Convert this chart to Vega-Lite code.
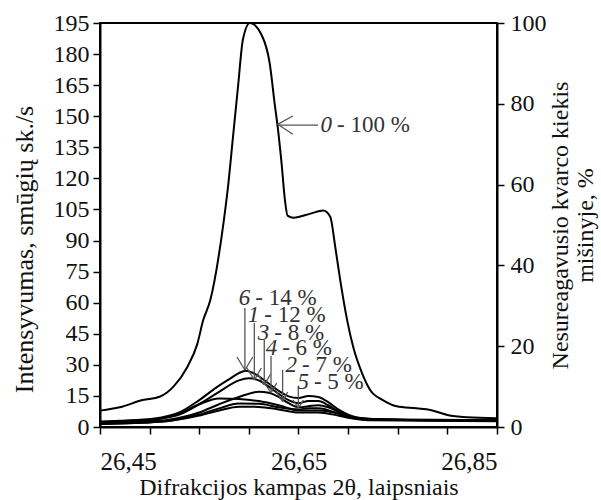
{
  "$schema": "https://vega.github.io/schema/vega-lite/v6.json",
  "width": 397,
  "height": 404,
  "autosize": "none",
  "padding": {"left": 100, "top": 23, "right": 104, "bottom": 73},
  "background": "white",
  "config": {
    "view": {"stroke": "black", "strokeWidth": 2},
    "font": "Liberation Serif",
    "axis": {"labelFont": "Liberation Serif", "titleFont": "Liberation Serif", "labelColor": "#111", "titleColor": "#111", "titleFontWeight": "normal", "domainColor": "black", "domainWidth": 2, "tickColor": "black", "tickWidth": 1.5, "grid": false},
    "text": {"font": "Liberation Serif"}
  },
  "datasets": {
    "curves": [
      {"s":"0","x":26.45,"y":7.9},{"s":"0","x":26.47,"y":9.5},{"s":"0","x":26.493,"y":13},{"s":"0","x":26.51,"y":14.6},{"s":"0","x":26.524,"y":19.5},{"s":"0","x":26.538,"y":29},{"s":"0","x":26.548,"y":40},{"s":"0","x":26.554,"y":51.6},{"s":"0","x":26.561,"y":61},{"s":"0","x":26.574,"y":97},{"s":"0","x":26.579,"y":116},{"s":"0","x":26.584,"y":140},{"s":"0","x":26.589,"y":164},{"s":"0","x":26.594,"y":187},{"s":"0","x":26.601,"y":195},{"s":"0","x":26.614,"y":188},{"s":"0","x":26.621,"y":175.5},{"s":"0","x":26.626,"y":156},{"s":"0","x":26.629,"y":145},{"s":"0","x":26.633,"y":127},{"s":"0","x":26.636,"y":111},{"s":"0","x":26.639,"y":102},{"s":"0","x":26.645,"y":101},{"s":"0","x":26.662,"y":103},{"s":"0","x":26.675,"y":104.5},{"s":"0","x":26.682,"y":101.5},{"s":"0","x":26.687,"y":87},{"s":"0","x":26.692,"y":71},{"s":"0","x":26.699,"y":51.6},{"s":"0","x":26.705,"y":38.8},{"s":"0","x":26.714,"y":26},{"s":"0","x":26.722,"y":18},{"s":"0","x":26.735,"y":13},{"s":"0","x":26.749,"y":10},{"s":"0","x":26.769,"y":9},{"s":"0","x":26.783,"y":8.2},{"s":"0","x":26.8,"y":5.8},{"s":"0","x":26.82,"y":4.7},{"s":"0","x":26.85,"y":4.2},

      {"s":"6","x":26.45,"y":2.5},{"s":"6","x":26.47,"y":3},{"s":"6","x":26.49,"y":3.5},{"s":"6","x":26.51,"y":4.5},{"s":"6","x":26.53,"y":7},{"s":"6","x":26.55,"y":13},{"s":"6","x":26.57,"y":20},{"s":"6","x":26.58,"y":23},{"s":"6","x":26.59,"y":26},{"s":"6","x":26.597,"y":27.2},{"s":"6","x":26.61,"y":24.5},{"s":"6","x":26.62,"y":21},{"s":"6","x":26.63,"y":17.5},{"s":"6","x":26.64,"y":14.8},{"s":"6","x":26.65,"y":14},{"s":"6","x":26.66,"y":15},{"s":"6","x":26.67,"y":14.5},{"s":"6","x":26.68,"y":12},{"s":"6","x":26.69,"y":8.5},{"s":"6","x":26.70,"y":6},{"s":"6","x":26.72,"y":4},{"s":"6","x":26.75,"y":3.5},{"s":"6","x":26.80,"y":3.2},{"s":"6","x":26.85,"y":3.5},

      {"s":"1","x":26.45,"y":2.2},{"s":"1","x":26.49,"y":3},{"s":"1","x":26.51,"y":4},{"s":"1","x":26.53,"y":6},{"s":"1","x":26.55,"y":11},{"s":"1","x":26.57,"y":17},{"s":"1","x":26.59,"y":22.5},{"s":"1","x":26.60,"y":23.5},{"s":"1","x":26.61,"y":22.5},{"s":"1","x":26.62,"y":19.5},{"s":"1","x":26.63,"y":16},{"s":"1","x":26.64,"y":13},{"s":"1","x":26.65,"y":11.5},{"s":"1","x":26.66,"y":12.5},{"s":"1","x":26.67,"y":12.5},{"s":"1","x":26.68,"y":10.5},{"s":"1","x":26.69,"y":7.5},{"s":"1","x":26.70,"y":5.5},{"s":"1","x":26.72,"y":4},{"s":"1","x":26.76,"y":3.4},{"s":"1","x":26.85,"y":3.4},

      {"s":"3","x":26.45,"y":2},{"s":"3","x":26.51,"y":3},{"s":"3","x":26.53,"y":4.5},{"s":"3","x":26.55,"y":7},{"s":"3","x":26.57,"y":11},{"s":"3","x":26.59,"y":14.5},{"s":"3","x":26.61,"y":17},{"s":"3","x":26.62,"y":16.5},{"s":"3","x":26.63,"y":14.5},{"s":"3","x":26.64,"y":11.5},{"s":"3","x":26.65,"y":9.5},{"s":"3","x":26.66,"y":10},{"s":"3","x":26.67,"y":10.5},{"s":"3","x":26.68,"y":9.5},{"s":"3","x":26.69,"y":7.5},{"s":"3","x":26.70,"y":5.5},{"s":"3","x":26.72,"y":3.8},{"s":"3","x":26.85,"y":3.3},

      {"s":"4","x":26.45,"y":2.5},{"s":"4","x":26.49,"y":3.2},{"s":"4","x":26.51,"y":4},{"s":"4","x":26.53,"y":6.5},{"s":"4","x":26.55,"y":11},{"s":"4","x":26.57,"y":13.8},{"s":"4","x":26.59,"y":13.5},{"s":"4","x":26.61,"y":12.5},{"s":"4","x":26.63,"y":10.5},{"s":"4","x":26.65,"y":8},{"s":"4","x":26.67,"y":8},{"s":"4","x":26.69,"y":6.5},{"s":"4","x":26.70,"y":5},{"s":"4","x":26.72,"y":3.7},{"s":"4","x":26.85,"y":3},

      {"s":"2","x":26.45,"y":1.5},{"s":"2","x":26.51,"y":2.5},{"s":"2","x":26.55,"y":6},{"s":"2","x":26.57,"y":9},{"s":"2","x":26.59,"y":11.3},{"s":"2","x":26.61,"y":11.2},{"s":"2","x":26.63,"y":9.5},{"s":"2","x":26.65,"y":8.5},{"s":"2","x":26.66,"y":9},{"s":"2","x":26.67,"y":9},{"s":"2","x":26.69,"y":6.5},{"s":"2","x":26.70,"y":5},{"s":"2","x":26.72,"y":3.5},{"s":"2","x":26.85,"y":3},

      {"s":"5","x":26.45,"y":1.5},{"s":"5","x":26.51,"y":2.5},{"s":"5","x":26.55,"y":5.5},{"s":"5","x":26.57,"y":8},{"s":"5","x":26.59,"y":9.8},{"s":"5","x":26.61,"y":9.7},{"s":"5","x":26.63,"y":8.5},{"s":"5","x":26.65,"y":7},{"s":"5","x":26.67,"y":7},{"s":"5","x":26.69,"y":5.5},{"s":"5","x":26.70,"y":4.5},{"s":"5","x":26.72,"y":3.3},{"s":"5","x":26.85,"y":2.8}
    ],
    "arrows": [
      {"x":26.6697,"y":145.7,"x2":26.6293,"y2":145.7},
      {"x":26.629,"y":146.1,"x2":26.6443,"y2":150.1},
      {"x":26.629,"y":146.1,"x2":26.6443,"y2":141.3},
      {"x":26.596,"y":57.4,"x2":26.596,"y2":27.5},
      {"x":26.596,"y":27.5,"x2":26.588,"y2":33.8},
      {"x":26.596,"y":27.5,"x2":26.604,"y2":33.8},
      {"x":26.6055,"y":50.2,"x2":26.6055,"y2":22.7},
      {"x":26.6055,"y":22.7,"x2":26.598,"y2":28.5},
      {"x":26.6055,"y":22.7,"x2":26.6125,"y2":28.5},
      {"x":26.6155,"y":42,"x2":26.6155,"y2":20.3},
      {"x":26.6155,"y":20.3,"x2":26.609,"y2":25.6},
      {"x":26.6155,"y":20.3,"x2":26.622,"y2":25.6},
      {"x":26.6223,"y":34.3,"x2":26.6223,"y2":16.4},
      {"x":26.6223,"y":16.4,"x2":26.616,"y2":21.2},
      {"x":26.6223,"y":16.4,"x2":26.628,"y2":21.2},
      {"x":26.634,"y":27.5,"x2":26.634,"y2":12.2},
      {"x":26.634,"y":12.2,"x2":26.628,"y2":16.9},
      {"x":26.634,"y":12.2,"x2":26.639,"y2":16.9},
      {"x":26.6498,"y":19.8,"x2":26.6498,"y2":9.2},
      {"x":26.6498,"y":9.2,"x2":26.6445,"y2":13},
      {"x":26.6498,"y":9.2,"x2":26.655,"y2":13}
    ],
    "labels": [
      {"n":"0","t":"- 100 %","x":26.6838,"y":146},
      {"n":"6","t":"- 14 %","x":26.6015,"y":62.3},
      {"n":"1","t":"- 12 %","x":26.6105,"y":54},
      {"n":"3","t":"- 8 %","x":26.6205,"y":45.4},
      {"n":"4","t":"- 6 %","x":26.6285,"y":38.1},
      {"n":"2","t":"- 7 %","x":26.6485,"y":29.9},
      {"n":"5","t":"- 5 %","x":26.6605,"y":21.9}
    ],
    "right": [{"p":0},{"p":100}]
  },
  "layer": [
    {
      "data": {"name": "curves"},
      "mark": {"type": "line", "interpolate": "monotone", "color": "black", "strokeWidth": 2},
      "encoding": {
        "detail": {"field": "s"},
        "x": {"field": "x", "type": "quantitative", "scale": {"domain": [26.45, 26.85], "nice": false, "zero": false},
          "axis": {"title": "Difrakcijos kampas 2θ, laipsniais", "titleFontSize": 24, "titlePadding": 1, "labelFontSize": 25, "labelPadding": 15, "tickSize": 7,
            "values": [26.45,26.5,26.55,26.6,26.65,26.7,26.75,26.8,26.85],
            "labelExpr": "(abs(datum.value-26.45)<0.001 || abs(datum.value-26.65)<0.001 || abs(datum.value-26.85)<0.001) ? replace(format(datum.value,'.2f'),'.',',') : ''"}},
        "y": {"field": "y", "type": "quantitative", "scale": {"domain": [0, 195], "nice": false},
          "axis": {"title": "Intensyvumas,  smūgių sk./s", "titleFontSize": 26, "titlePadding": 16, "titleY": 226, "labelFontSize": 24, "labelPadding": 4, "tickSize": 7,
            "values": [0,15,30,45,60,75,90,105,120,135,150,165,180,195]}}
      }
    },
    {
      "data": {"name": "arrows"},
      "mark": {"type": "rule", "color": "#555", "strokeWidth": 1.3},
      "encoding": {
        "x": {"field": "x", "type": "quantitative"},
        "y": {"field": "y", "type": "quantitative", "scale": {"domain": [0, 195], "nice": false}, "axis": null},
        "x2": {"field": "x2"},
        "y2": {"field": "y2"}
      }
    },
    {
      "data": {"name": "labels"},
      "mark": {"type": "text", "align": "right", "baseline": "middle", "fontStyle": "italic", "fontSize": 23, "color": "#333"},
      "encoding": {
        "x": {"field": "x", "type": "quantitative"},
        "y": {"field": "y", "type": "quantitative", "scale": {"domain": [0, 195], "nice": false}, "axis": null},
        "text": {"field": "n"}
      }
    },
    {
      "data": {"name": "labels"},
      "mark": {"type": "text", "align": "left", "baseline": "middle", "dx": 5, "fontSize": 23, "color": "#333"},
      "encoding": {
        "x": {"field": "x", "type": "quantitative"},
        "y": {"field": "y", "type": "quantitative", "scale": {"domain": [0, 195], "nice": false}, "axis": null},
        "text": {"field": "t"}
      }
    },
    {
      "data": {"name": "right"},
      "mark": {"type": "point", "opacity": 0},
      "encoding": {
        "y": {"field": "p", "type": "quantitative", "scale": {"domain": [0, 100], "nice": false},
          "axis": {"orient": "right", "title": ["Nesureagavusio kvarco kiekis", "mišinyje, %"], "titleAngle": 270, "titleBaseline": "bottom", "titleFontSize": 24, "titleLineHeight": 25, "titlePadding": 1, "labelFontSize": 24, "labelPadding": 6, "tickSize": 7,
            "values": [0,20,40,60,80,100]}}
      }
    }
  ],
  "resolve": {"scale": {"y": "independent"}, "axis": {"y": "independent"}}
}
